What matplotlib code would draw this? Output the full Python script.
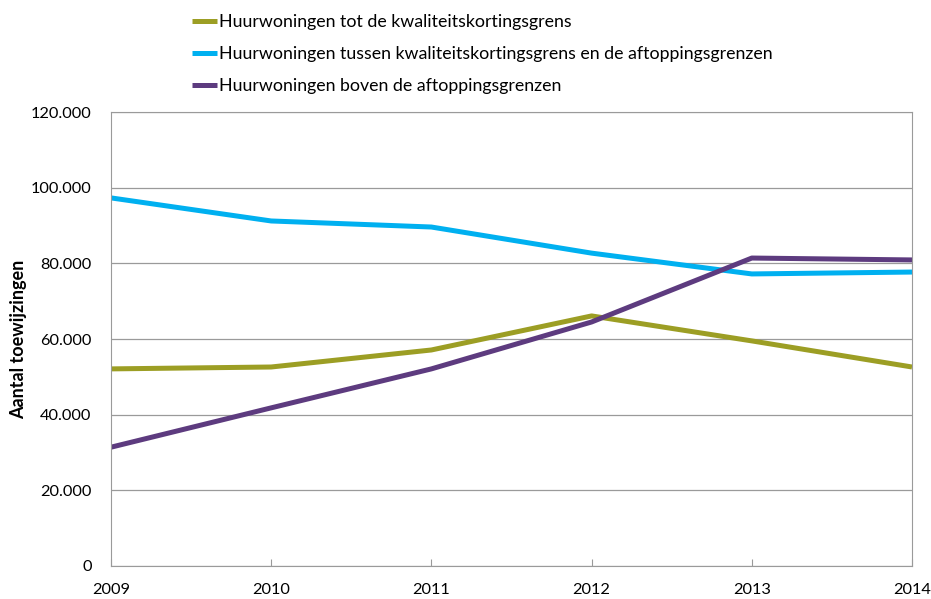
import matplotlib.pyplot as plt
from matplotlib.ticker import FuncFormatter

years = [2009, 2010, 2011, 2012, 2013, 2014]
tot_kwaliteit = [52100, 52600, 57100, 66100, 59500, 52600]
tussen_grenzen = [97300, 91200, 89600, 82700, 77200, 77700]
boven_aftopping = [31400, 41800, 52100, 64500, 81400, 80900]

labels = [
    "Huurwoningen tot de kwaliteitskortingsgrens",
    "Huurwoningen tussen kwaliteitskortingsgrens en de aftoppingsgrenzen",
    "Huurwoningen boven de aftoppingsgrenzen",
]
colors = ["#9c9e24", "#00b0f0", "#5d3b7f"]

plt.rcParams["font.family"] = ["Lato", "DejaVu Sans"]

fig = plt.figure(figsize=(9.31, 5.99), dpi=100)
ax = fig.add_axes([0.1192, 0.0551, 0.8604, 0.7579])

handles = []
for series, label, color in zip([tot_kwaliteit, tussen_grenzen, boven_aftopping], labels, colors):
    (ln,) = ax.plot(years, series, color=color, lw=3.6, label=label, solid_capstyle="butt")
    handles.append(ln)

ax.set_xlim(2009, 2014)
ax.set_ylim(0, 120000)
ax.set_yticks(range(0, 120001, 20000))
ax.yaxis.set_major_formatter(FuncFormatter(lambda v, _: "0" if v == 0 else f"{int(v):,}".replace(",", ".")))
ax.set_xticks(years)
ax.grid(axis="y", color="#9a9a9a", lw=0.9)
ax.set_axisbelow(True)
for side in ["left", "right", "top", "bottom"]:
    ax.spines[side].set_color("#9a9a9a")
ax.tick_params(axis="y", length=0, labelsize=11.8, pad=14, colors="#000000")
ax.tick_params(axis="x", direction="in", length=5, color="#9a9a9a", labelsize=11.8, pad=12)
ax.set_ylabel("Aantal toewijzingen", fontsize=13, fontweight="bold", labelpad=3)

fig.legend(handles=handles, loc="upper left", bbox_to_anchor=(0.199, 0.988), frameon=False,
           fontsize=12.8, handlelength=1.37, handletextpad=0.1, labelspacing=0.9, borderaxespad=0)

fig.savefig("out.png", dpi=100)
